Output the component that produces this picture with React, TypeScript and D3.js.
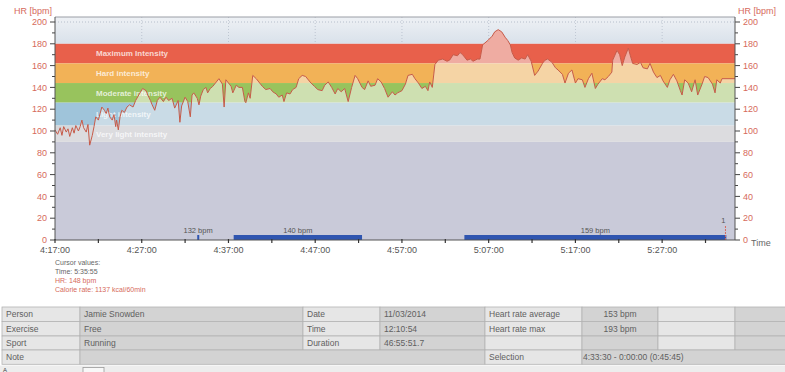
import * as d3 from 'd3'

// heart rate trace, minutes after 4:17:00
const hrMinutes = [0.0,0.3,0.6,0.8,1.0,1.3,1.5,1.7,2.0,2.2,2.4,2.7,2.9,3.1,3.3,3.6,3.8,4.0,4.3,4.5,4.7,5.0,5.2,5.4,5.7,5.9,6.1,6.3,6.6,6.8,7.0,7.1,7.3,7.5,7.7,8.0,8.3,8.6,9.0,9.3,9.8,10.1,10.5,10.7,11.0,11.2,11.5,11.8,12.1,12.5,12.8,13.1,13.5,13.8,14.2,14.4,14.6,15.0,15.3,15.6,15.8,16.0,16.4,16.6,16.8,17.1,17.4,17.6,17.9,18.2,18.6,18.9,19.3,19.5,19.7,20.1,20.3,20.5,20.9,21.2,21.6,21.9,22.0,22.3,22.5,22.8,23.2,23.5,23.9,24.3,24.8,25.1,25.5,25.8,26.2,26.4,26.7,27.1,27.4,27.8,28.1,28.5,28.9,29.4,29.9,30.3,30.8,31.1,31.5,31.9,32.3,32.6,33.0,33.4,33.8,34.2,34.6,34.9,35.4,35.7,36.1,36.4,36.9,37.2,37.6,38.0,38.4,38.9,39.2,39.5,40.0,40.4,40.7,41.2,41.5,41.9,42.3,42.7,43.0,43.2,43.5,43.8,44.2,44.7,45.2,45.5,45.9,46.4,46.7,47.0,47.5,47.9,48.2,48.7,49.0,49.3,49.9,50.4,50.7,51.1,51.5,51.9,52.2,52.5,52.7,53.0,53.4,53.8,54.2,54.5,54.9,55.3,55.7,56.2,56.5,56.8,57.3,57.7,58.0,58.5,58.8,59.2,59.6,60.0,60.3,60.8,61.1,61.5,61.9,62.3,62.6,63.1,63.4,63.8,64.2,64.3,64.8,65.1,65.4,65.7,66.1,66.3,66.6,67.1,67.5,67.8,68.3,68.6,69.0,69.4,69.8,70.1,70.6,70.9,71.3,71.7,72.1,72.3,72.6,73.0,73.4,73.8,74.1,74.6,74.9,75.3,75.8,76.1,76.3,76.7,76.9]
const hrBpm = [101,97,103,96,104,99,102,95,103,98,105,100,104,110,103,99,106,87,96,104,113,110,116,122,119,116,121,113,110,115,104,110,101,113,119,117,122,124,122,128,135,139,137,133,128,124,119,128,131,127,131,128,130,121,128,108,123,131,127,113,133,135,130,124,132,138,140,135,139,141,145,148,143,122,147,143,141,135,142,140,140,127,126,135,130,151,148,145,141,138,139,136,134,131,133,127,135,134,138,140,148,151,150,145,141,138,137,142,145,140,134,139,136,139,127,140,151,148,140,138,146,141,142,148,145,139,131,136,133,135,137,143,151,152,148,144,139,141,137,145,140,161,165,166,164,165,170,169,172,170,165,166,164,166,166,179,183,187,191,193,191,186,183,179,172,167,165,167,166,170,164,151,155,162,165,166,163,158,156,152,144,153,156,144,148,147,140,148,153,139,143,148,147,150,154,165,174,170,160,168,176,170,162,161,163,158,157,162,154,149,151,146,140,147,152,146,137,133,147,144,136,147,133,143,150,149,143,135,147,144,148]

// intensity zones (bpm)
const zoneNames = ['Maximum Intensity', 'Hard intensity', 'Moderate intensity', 'Light intensity', 'Very light intensity']
const zoneLow = [162, 144, 126, 105, 90]
const zoneHigh = [180, 162, 144, 126, 105]
const zoneStrong = ['#e8604b', '#f2b257', '#98c35d', '#9fc4da', '#d6d7da']
const zonePale = ['#efaca2', '#f5d4a5', '#cee0b1', '#c9dbe6', '#dcdcdf']

// heart-rate segments at the bottom
const segStart = [16.4, 20.6, 47.2]
const segEnd = [16.6, 35.4, 77.4]
const segLabel = ['132 bpm', '140 bpm', '159 bpm']

const xMajor = [0, 10, 20, 30, 40, 50, 60, 70]
const xMajorLabels = ['4:17:00', '4:27:00', '4:37:00', '4:47:00', '4:57:00', '5:07:00', '5:17:00', '5:27:00']
const xMinor = [5, 15, 25, 35, 45, 55, 65, 75]
const xEnd = 78.4
const cursorMin = 77.3

const cursorLines = ['Cursor values:', 'Time: 5:35:55', 'HR: 148 bpm', 'Calorie rate: 1137 kcal/60min']

const tableRows = [
  ['Person', 'Jamie Snowden', 'Date', '11/03/2014', 'Heart rate average', '153 bpm', '', ''],
  ['Exercise', 'Free', 'Time', '12:10:54', 'Heart rate max', '193 bpm', '', ''],
  ['Sport', 'Running', 'Duration', '46:55:51.7', '', '', '', ''],
]
const colEdges = [2, 80, 303, 380, 485, 582, 658, 735, 790]

const FONT = '"Liberation Sans", Arial, sans-serif'
const RED = '#d66a5c'
const W = 785
const H = 372
const left = 55
const right = 735
const top = 17
const bottom = 240

export default function App() {
  const x = d3.scaleLinear().domain([0, xEnd]).range([left, right])
  const y = d3.scaleLinear().domain([0, 200]).range([bottom, 22])

  const pts: [number, number][] = hrMinutes.slice(0, hrBpm.length).map((t, i) => [t, hrBpm[i]])
  pts.push([xEnd, hrBpm[hrBpm.length - 1]])

  const line = d3.line<[number, number]>().x(d => x(d[0])).y(d => y(d[1]))
  const below = d3.area<[number, number]>().x(d => x(d[0])).y0(bottom).y1(d => y(d[1]))
  const above = d3.area<[number, number]>().x(d => x(d[0])).y0(top).y1(d => y(d[1]))

  const yMajor = d3.range(0, 201, 20)
  const yMinor = d3.range(10, 200, 20)

  const rowY = [307, 321.5, 336, 350, 364.3]

  return (
    <svg width={W} height={H} style={{ position: 'absolute', left: 0, top: 0, fontFamily: FONT }}>
      <defs>
        <linearGradient id="topGrad" x1="0" y1="0" x2="0" y2="1">
          <stop offset="0%" stopColor="#eef1f5" />
          <stop offset="100%" stopColor="#d9e1ea" />
        </linearGradient>
        <clipPath id="clipBelow"><path d={below(pts) ?? ''} /></clipPath>
        <clipPath id="clipAbove"><path d={above(pts) ?? ''} /></clipPath>
      </defs>
      <rect width={W} height={H} fill="#ffffff" />

      {/* plot background */}
      <rect x={left} y={top} width={right - left} height={y(180) - top} fill="url(#topGrad)" />
      <rect x={left} y={y(90)} width={right - left} height={bottom - y(90)} fill="#c9cad9" />

      {/* pale zone colours under the curve */}
      <g clipPath="url(#clipBelow)">
        {zoneLow.map((lo, i) => {
          const hi = i === 0 ? 200 : zoneHigh[i]
          const yTop = i === 0 ? top : y(hi)
          return <rect key={i} x={left} y={yTop} width={right - left} height={y(lo) - yTop} fill={zonePale[i]} />
        })}
      </g>
      {/* strong zone colours above the curve */}
      <g clipPath="url(#clipAbove)">
        {zoneLow.map((lo, i) => (
          <rect key={i} x={left} y={y(zoneHigh[i])} width={right - left} height={y(lo) - y(zoneHigh[i])} fill={zoneStrong[i]} />
        ))}
      </g>

      {/* grid */}
      {xMajor.slice(1).map(t => (
        <line key={t} x1={x(t)} x2={x(t)} y1={top} y2={y(180)} stroke="#a9b2c2" strokeWidth={0.8} strokeDasharray="1,2" opacity={0.8} />
      ))}
      <line x1={left} x2={right} y1={y(200)} y2={y(200)} stroke="#a9b2c2" strokeWidth={0.8} strokeDasharray="1,2" />
      <line x1={left} x2={right} y1={top} y2={top} stroke="#9a9ea6" strokeWidth={1} />

      {/* zone labels */}
      {zoneNames.map((n, i) => (
        <text key={n} x={96} y={y((zoneLow[i] + zoneHigh[i]) / 2)} dy="0.35em" fontSize={8} fontWeight={600}
          fill="#ffffff" fillOpacity={0.75}>{n}</text>
      ))}

      {/* HR curve */}
      <path d={line(pts) ?? ''} fill="none" stroke="#c65a48" strokeWidth={1} />

      {/* segments */}
      {segStart.map((s, i) => (
        <g key={i}>
          <rect x={x(s)} y={bottom - 5} width={Math.max(x(segEnd[i]) - x(s), 2)} height={5} fill="#2f55b0" />
          <text x={(x(s) + x(segEnd[i])) / 2} y={bottom - 7} textAnchor="middle" fontSize={7.5} fill="#555">{segLabel[i]}</text>
        </g>
      ))}
      <line x1={x(cursorMin)} x2={x(cursorMin)} y1={bottom - 14} y2={bottom} stroke="#d66a5c" strokeWidth={1} strokeDasharray="2,1" />
      <text x={x(cursorMin) - 2} y={bottom - 17} fontSize={7.5} fill="#555" textAnchor="middle">1</text>

      {/* left and right axes */}
      <line x1={left} x2={left} y1={top} y2={bottom} stroke="#555" strokeWidth={1} />
      {yMajor.map(v => (
        <g key={v}>
          <line x1={left - 5} x2={left} y1={y(v)} y2={y(v)} stroke="#444" />
          <text x={left - 8} y={y(v)} dy="0.35em" textAnchor="end" fontSize={9} fill={RED}>{v}</text>
          <line x1={right} x2={right + 5} y1={y(v)} y2={y(v)} stroke="#444" />
          <text x={right + 8} y={y(v)} dy="0.35em" fontSize={9} fill={RED}>{v}</text>
        </g>
      ))}
      {yMinor.map(v => (
        <g key={v}>
          <line x1={left - 3} x2={left} y1={y(v)} y2={y(v)} stroke="#444" />
          <line x1={right} x2={right + 3} y1={y(v)} y2={y(v)} stroke="#444" />
        </g>
      ))}
      <line x1={right} x2={right} y1={top} y2={bottom} stroke="#555" strokeWidth={1} />
      <text x={52} y={14} textAnchor="end" fontSize={9} fill={RED}>HR [bpm]</text>
      <text x={738} y={14} fontSize={9} fill={RED}>HR [bpm]</text>

      {/* bottom axis */}
      <line x1={left} x2={right} y1={bottom} y2={bottom} stroke="#555" strokeWidth={1} />
      {xMajor.map((t, i) => (
        <g key={t}>
          <line x1={x(t)} x2={x(t)} y1={bottom - 1} y2={bottom + 3} stroke="#333" strokeWidth={1.2} />
          <text x={x(t)} y={bottom + 13} textAnchor="middle" fontSize={9} fill="#555">{xMajorLabels[i]}</text>
        </g>
      ))}
      {xMinor.map(t => (
        <line key={t} x1={x(t)} x2={x(t)} y1={bottom - 1} y2={bottom + 3} stroke="#333" strokeWidth={1.2} />
      ))}
      <text x={751} y={bottom + 6} fontSize={9} fill="#666">Time</text>

      {/* cursor values */}
      {cursorLines.map((s, i) => (
        <text key={s} x={55} y={265 + i * 9} fontSize={7} fill={i < 2 ? '#666' : RED}>{s}</text>
      ))}

      {/* info table */}
      {tableRows.map((row, r) => row.map((cell, c) => (
        <g key={`${r}-${c}`}>
          <rect x={colEdges[c]} y={rowY[r]} width={colEdges[c + 1] - colEdges[c]} height={rowY[r + 1] - rowY[r]}
            fill={c % 2 === 0 ? '#e6e6e6' : '#d3d3d3'} stroke="#b3b3b3" strokeWidth={0.8} />
          <text x={c === 5 ? (colEdges[c] + colEdges[c + 1]) / 2 : colEdges[c] + 4}
            textAnchor={c === 5 ? 'middle' : 'start'}
            y={(rowY[r] + rowY[r + 1]) / 2} dy="0.35em" fontSize={8.5} fill="#606060">{cell}</text>
        </g>
      )))}
      {[[0, 1, 'Note', true], [1, 4, '', false], [4, 5, 'Selection', true], [5, 8, '4:33:30 - 0:00:00 (0:45:45)', false]].map(([a, b, s, light]) => (
        <g key={String(a)}>
          <rect x={colEdges[a as number]} y={rowY[3]} width={colEdges[b as number] - colEdges[a as number]} height={rowY[4] - rowY[3]}
            fill={light ? '#e6e6e6' : '#d3d3d3'} stroke="#b3b3b3" strokeWidth={0.8} />
          <text x={colEdges[a as number] + (a === 5 ? 1 : 4)} y={(rowY[3] + rowY[4]) / 2} dy="0.35em" fontSize={8.5} fill="#606060">{s as string}</text>
        </g>
      ))}
      <rect x={0} y={365.5} width={W} height={7} fill="#ededed" />
      <text x={3} y={371.5} fontSize={6} fill="#444">A</text>
      <rect x={83} y={367.5} width={21} height={8} fill="#f8f8f8" stroke="#999" strokeWidth={0.8} />
    </svg>
  )
}
